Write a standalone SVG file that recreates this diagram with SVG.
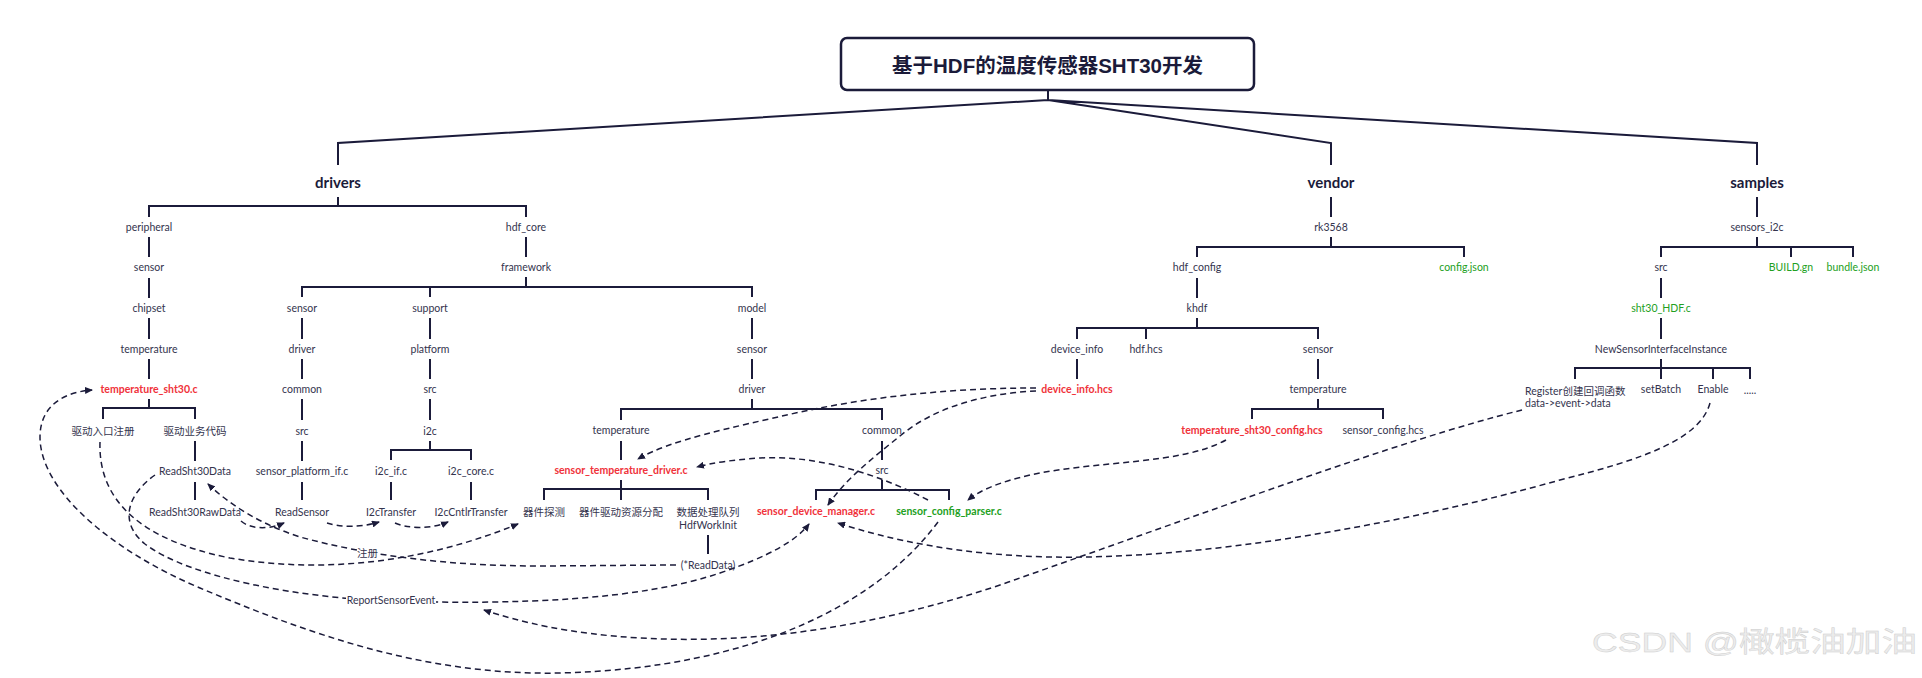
<svg xmlns="http://www.w3.org/2000/svg" width="1922" height="678" viewBox="0 0 1922 678">
<defs>
<style>
.t{font-family:Lato,"Noto Sans CJK SC",sans-serif;font-size:10.5px;fill:#34344e;text-anchor:middle;dominant-baseline:central}
.h{font-family:Lato,"Noto Sans CJK SC",sans-serif;font-size:15px;font-weight:700;fill:#1b1b3a;text-anchor:middle;dominant-baseline:central}
.r{fill:#f0323a;font-weight:700}
.g{fill:#22a022;font-weight:700}
.gl{fill:#22a022}
.sa{text-anchor:start}
.st{fill:none;stroke:#1b1b3a;stroke-width:2}
.d{fill:none;stroke:#1b1b3a;stroke-width:1.5;stroke-dasharray:6 4}
.lb{fill:#fff}
</style>
<marker id="ar" viewBox="0 0 8 7" refX="7" refY="3.5" markerWidth="8" markerHeight="7" markerUnits="userSpaceOnUse" orient="auto"><path d="M0,0 L8,3.5 L0,7 z" fill="#1b1b3a"/></marker>
</defs>
<rect width="1922" height="678" fill="#fff"/>
<g id="connectors">
<path class="st" d="M1048,90 V100 M1048,100 L338,143 V165 M1048,100 L1331,143 V165 M1048,100 L1757,143 V165
M338,197 V206 M149,217 V206 H526 V217
M149,237 V257 M149,278 V298 M149,318 V339 M149,359 V379
M149,399 V408 M103,419 V408 H195 V419
M195,441 V461 M195,482 V500
M526,237 V257 M526,277 V287 M302,297 V287 H752 V297 M430,287 V297
M302,318 V339 M302,359 V379 M302,399 V420 M302,441 V461 M302,482 V500
M430,318 V339 M430,359 V379 M430,399 V420 M430,441 V450 M391,460 V450 H471 V460 M391,482 V500 M471,482 V500
M752,318 V339 M752,359 V379 M752,399 V409 M621,420 V409 H882 V420
M621,441 V460 M621,480 V500 M544,500 V489 H708 V500 M708,535 V554
M882,441 V460 M882,480 V490 M816,500 V490 H949 V500
M1331,197 V217 M1331,237 V247 M1197,257 V247 H1464 V257
M1197,278 V298 M1197,318 V328 M1077,339 V328 H1318 V339 M1146,328 V339
M1077,359 V379 M1318,359 V379 M1318,399 V409 M1252,419 V409 H1383 V419
M1757,197 V217 M1757,237 V247 M1661,257 V247 H1853 V257 M1791,247 V257
M1661,278 V298 M1661,318 V339 M1661,359 V379 M1575,379 V368 H1750 V379 M1713,368 V379"/>
<path id="e-parser-sht30" class="d" marker-end="url(#ar)" d="M938,522 C880,600 760,668 560,673 C420,676 300,630 200,588 C110,550 40,490 40,437 C40,405 65,392 92,390"/>
<path id="e-entry-probe" class="d" marker-end="url(#ar)" d="M100,442 C98,500 140,540 230,558 C330,575 430,560 518,524"/>
<path id="e-readdata-reg" class="d" marker-end="url(#ar)" d="M676,565 L540,566 C450,566 370,556 300,537 C260,524 230,505 208,484"/>
<path id="e-read-report" class="d" marker-end="url(#ar)" d="M155,475 C128,494 118,522 145,544 C190,578 300,598 391,601 C520,605 640,600 720,573 C770,556 797,540 809,524"/>
<path id="e-register-report" class="d" marker-end="url(#ar)" d="M1522,410 C1400,440 1200,515 1000,585 C880,625 760,645 640,638 C570,634 520,622 484,610"/>
<path id="e-enable-mgr" class="d" marker-end="url(#ar)" d="M1710,403 C1700,440 1640,460 1560,480 C1400,525 1200,560 1050,557 C960,555 890,540 838,523"/>
<path id="e-cfghcs-parser" class="d" marker-end="url(#ar)" d="M1226,440 C1180,465 1100,460 1030,475 C1000,482 980,490 968,500"/>
<path id="e-devinfo-tempdrv" class="d" marker-end="url(#ar)" d="M1036,388 C960,388 880,395 800,412 C730,428 670,440 638,459"/>
<path id="e-devinfo-mgr" class="d" marker-end="url(#ar)" d="M1036,391 C990,393 940,405 905,432 C870,460 845,480 828,505"/>
<path id="e-parser-tempdrv" class="d" marker-end="url(#ar)" d="M928,500 C880,475 820,455 760,458 C730,460 712,463 697,467"/>
<path id="e-raw-readsensor" class="d" marker-end="url(#ar)" d="M241,521 C250,529 268,530 284,523"/>
<path id="e-readsensor-i2c" class="d" marker-end="url(#ar)" d="M327,523 C340,527 360,528 379,522"/>
<path id="e-i2c-cntlr" class="d" marker-end="url(#ar)" d="M395,523 C405,528 430,530 448,522"/>
<rect class="lb" x="357" y="546" width="21" height="14"/>
<text class="t" x="367.5" y="553">注册</text>
<rect class="lb" x="346" y="593" width="90" height="14"/>
<text class="t" x="391" y="600">ReportSensorEvent</text>
</g>
<g id="root"><rect x="841" y="38" width="413" height="52" rx="6" fill="#fff" stroke="#1b1b3a" stroke-width="2.5"/>
<text x="1047.5" y="65" font-family="'Liberation Sans','Noto Sans CJK SC',sans-serif" font-size="20.5" font-weight="700" fill="#1b1b3a" text-anchor="middle" dominant-baseline="central">基于HDF的温度传感器SHT30开发</text></g>
<g id="drivers"><text class="h" x="338" y="182">drivers</text></g>
<g id="vendor"><text class="h" x="1331" y="182">vendor</text></g>
<g id="samples"><text class="h" x="1757" y="182">samples</text></g>
<g id="peripheral"><text class="t" x="149" y="227">peripheral</text></g>
<g id="p-sensor"><text class="t" x="149" y="267">sensor</text></g>
<g id="chipset"><text class="t" x="149" y="308">chipset</text></g>
<g id="p-temperature"><text class="t" x="149" y="349">temperature</text></g>
<g id="temperature_sht30"><text class="t r" x="149" y="389">temperature_sht30.c</text></g>
<g id="entry"><text class="t" x="103" y="431">驱动入口注册</text></g>
<g id="business"><text class="t" x="195" y="431">驱动业务代码</text></g>
<g id="ReadSht30Data"><text class="t" x="195" y="471">ReadSht30Data</text></g>
<g id="ReadSht30RawData"><text class="t" x="195" y="511.5">ReadSht30RawData</text></g>
<g id="hdf_core"><text class="t" x="526" y="227">hdf_core</text></g>
<g id="framework"><text class="t" x="526" y="267">framework</text></g>
<g id="f-sensor"><text class="t" x="302" y="308">sensor</text></g>
<g id="f-driver"><text class="t" x="302" y="349">driver</text></g>
<g id="f-common"><text class="t" x="302" y="389">common</text></g>
<g id="f-src"><text class="t" x="302" y="431">src</text></g>
<g id="sensor_platform_if"><text class="t" x="302" y="471">sensor_platform_if.c</text></g>
<g id="ReadSensor"><text class="t" x="302" y="511.5">ReadSensor</text></g>
<g id="support"><text class="t" x="430" y="308">support</text></g>
<g id="platform"><text class="t" x="430" y="349">platform</text></g>
<g id="s-src"><text class="t" x="430" y="389">src</text></g>
<g id="i2c"><text class="t" x="430" y="431">i2c</text></g>
<g id="i2c_if"><text class="t" x="391" y="471">i2c_if.c</text></g>
<g id="i2c_core"><text class="t" x="471" y="471">i2c_core.c</text></g>
<g id="I2cTransfer"><text class="t" x="391" y="511.5">I2cTransfer</text></g>
<g id="I2cCntlrTransfer"><text class="t" x="471" y="511.5">I2cCntlrTransfer</text></g>
<g id="model"><text class="t" x="752" y="308">model</text></g>
<g id="m-sensor"><text class="t" x="752" y="349">sensor</text></g>
<g id="m-driver"><text class="t" x="752" y="389">driver</text></g>
<g id="m-temperature"><text class="t" x="621" y="430">temperature</text></g>
<g id="m-common"><text class="t" x="882" y="430">common</text></g>
<g id="sensor_temperature_driver"><text class="t r" x="621" y="470">sensor_temperature_driver.c</text></g>
<g id="probe"><text class="t" x="544" y="511.5">器件探测</text></g>
<g id="alloc"><text class="t" x="621" y="511.5">器件驱动资源分配</text></g>
<g id="queue"><text class="t" x="708" y="511.5">数据处理队列</text><text class="t" x="708" y="525">HdfWorkInit</text></g>
<g id="ReadData"><text class="t" x="708" y="565">(*ReadData)</text></g>
<g id="m-src"><text class="t" x="882" y="470">src</text></g>
<g id="sensor_device_manager"><text class="t r" x="816" y="511">sensor_device_manager.c</text></g>
<g id="sensor_config_parser"><text class="t g" x="949" y="511">sensor_config_parser.c</text></g>
<g id="rk3568"><text class="t" x="1331" y="227">rk3568</text></g>
<g id="hdf_config"><text class="t" x="1197" y="267">hdf_config</text></g>
<g id="config_json"><text class="t gl" x="1464" y="267">config.json</text></g>
<g id="khdf"><text class="t" x="1197" y="308">khdf</text></g>
<g id="device_info"><text class="t" x="1077" y="349">device_info</text></g>
<g id="hdf_hcs"><text class="t" x="1146" y="349">hdf.hcs</text></g>
<g id="v-sensor"><text class="t" x="1318" y="349">sensor</text></g>
<g id="device_info_hcs"><text class="t r" x="1077" y="389">device_info.hcs</text></g>
<g id="v-temperature"><text class="t" x="1318" y="389">temperature</text></g>
<g id="temperature_sht30_config"><text class="t r" x="1252" y="429.5">temperature_sht30_config.hcs</text></g>
<g id="sensor_config_hcs"><text class="t" x="1383" y="430">sensor_config.hcs</text></g>
<g id="sensors_i2c"><text class="t" x="1757" y="227">sensors_i2c</text></g>
<g id="sa-src"><text class="t" x="1661" y="267">src</text></g>
<g id="BUILD_gn"><text class="t gl" x="1791" y="267">BUILD.gn</text></g>
<g id="bundle_json"><text class="t gl" x="1853" y="267">bundle.json</text></g>
<g id="sht30_HDF"><text class="t gl" x="1661" y="308">sht30_HDF.c</text></g>
<g id="NewSensorInterfaceInstance"><text class="t" x="1661" y="349">NewSensorInterfaceInstance</text></g>
<g id="Register"><text class="t sa" x="1525" y="390.5">Register创建回调函数</text><text class="t sa" x="1525" y="403">data-&gt;event-&gt;data</text></g>
<g id="setBatch"><text class="t" x="1661" y="389">setBatch</text></g>
<g id="Enable"><text class="t" x="1713" y="389">Enable</text></g>
<g id="more"><text class="t" x="1750" y="390">.....</text></g>
<text x="1592" y="652" font-family="'Liberation Sans','Noto Sans CJK SC',sans-serif" font-size="28" fill="#ececec" stroke="#cdcdcd" stroke-width="0.4" textLength="325" lengthAdjust="spacingAndGlyphs">CSDN @橄榄油加油</text>
</svg>
